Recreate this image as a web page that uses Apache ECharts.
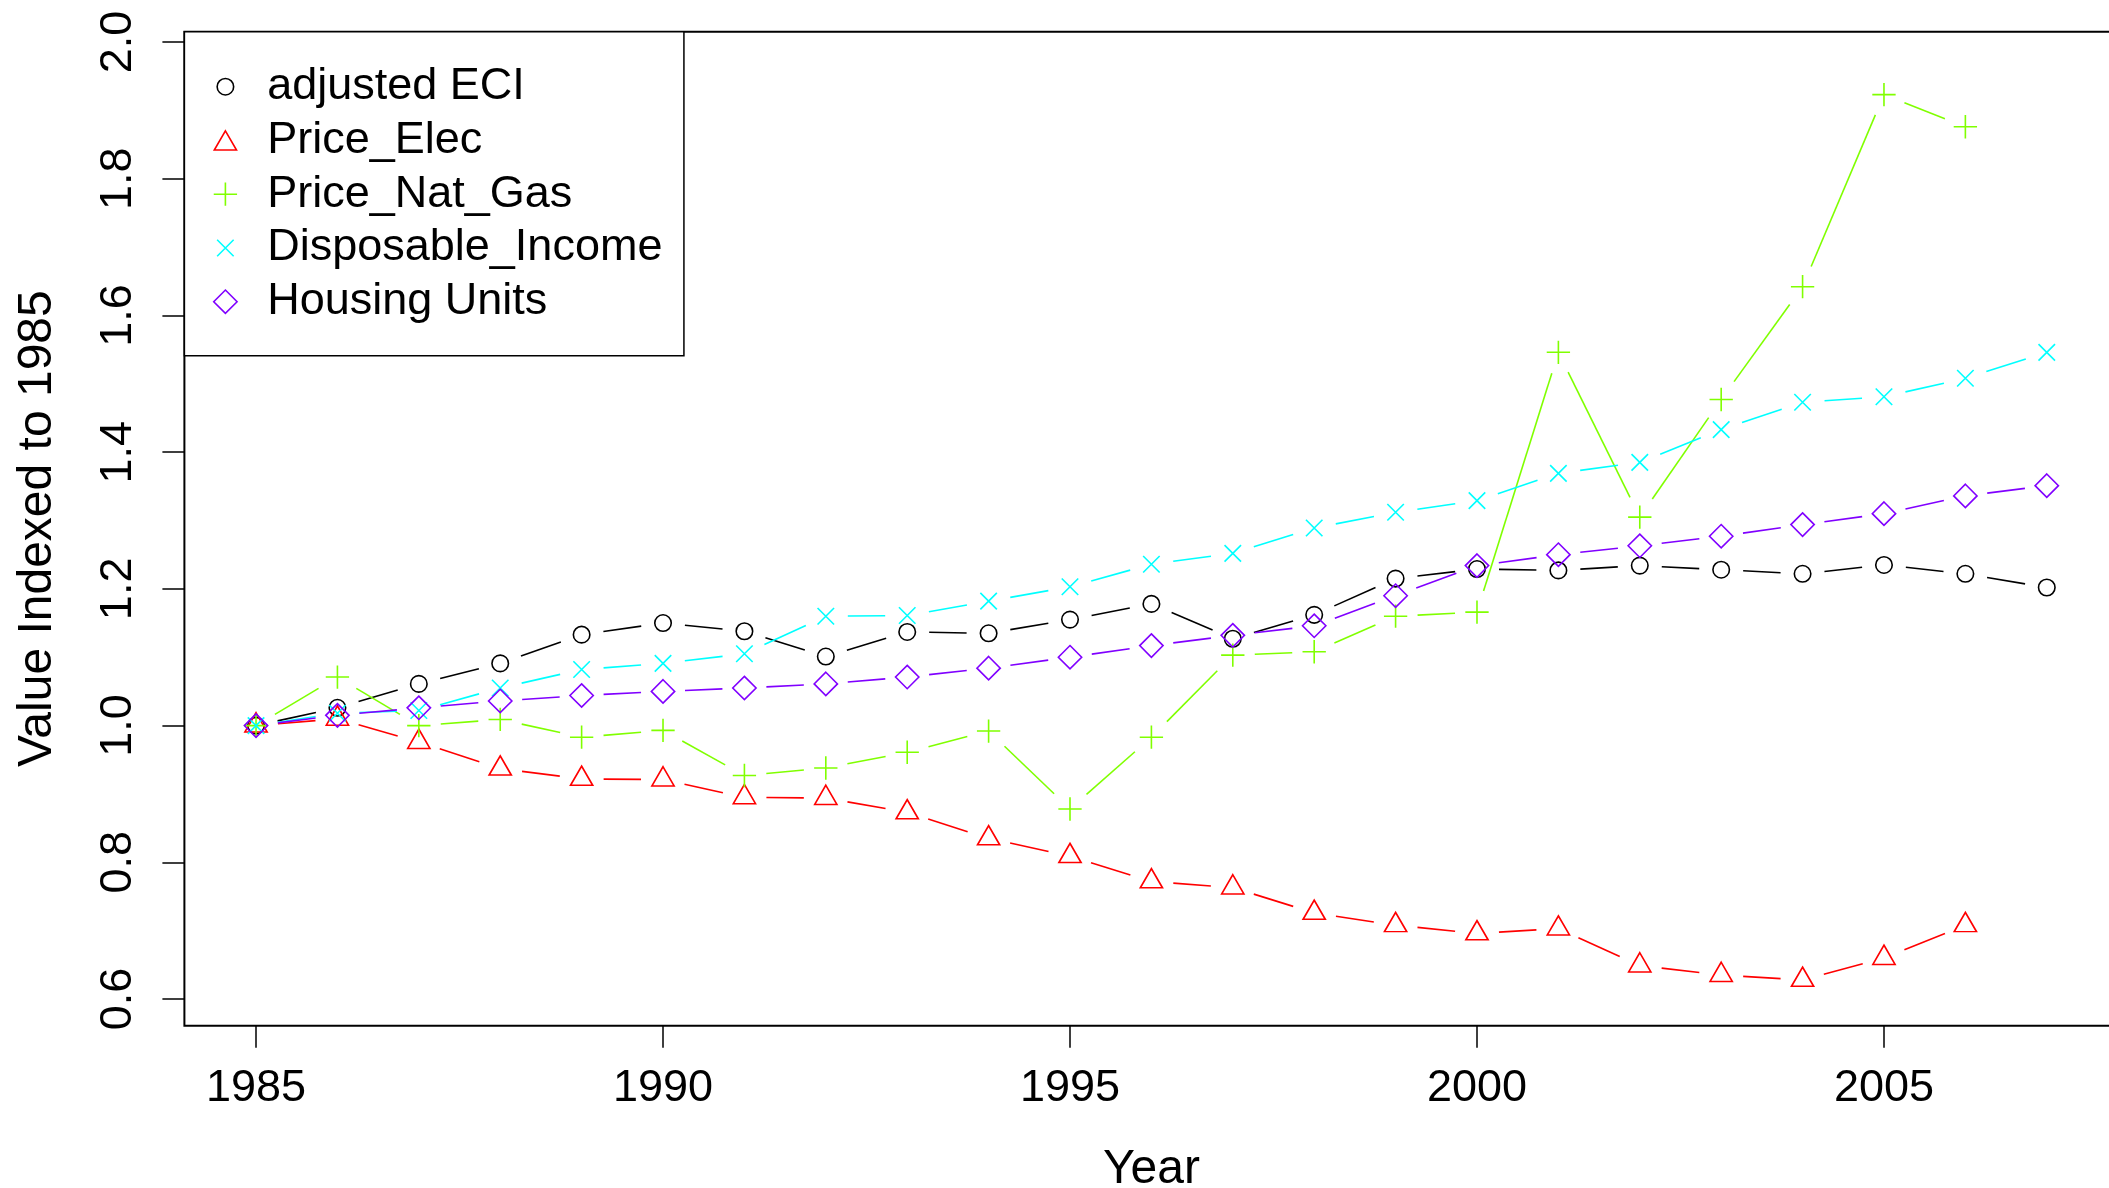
<!DOCTYPE html>
<html>
<head>
<meta charset="utf-8">
<script src="https://cdn.jsdelivr.net/npm/echarts@6/dist/echarts.min.js"></script>
<style>
  html, body { margin: 0; padding: 0; background: #fff; }
  #chart { width: 2109px; height: 1188px; }
</style>
</head>
<body>
<div id="chart"></div>
<script>
// ---- data ----
const years = [1985,1986,1987,1988,1989,1990,1991,1992,1993,1994,1995,1996,1997,1998,1999,2000,2001,2002,2003,2004,2005,2006,2007];
const adjustedECI = [1.000,1.026,1.061,1.091,1.133,1.150,1.138,1.101,1.137,1.135,1.155,1.178,1.127,1.162,1.215,1.229,1.227,1.234,1.228,1.222,1.235,1.222,1.202];
const priceElec = [1.000,1.010,0.976,0.937,0.922,0.921,0.895,0.894,0.873,0.835,0.809,0.772,0.763,0.726,0.708,0.696,0.703,0.649,0.635,0.628,0.660,0.708];
const priceNatGas = [1.000,1.071,1.000,1.009,0.983,0.993,0.927,0.938,0.961,0.992,0.878,0.983,1.103,1.108,1.160,1.166,1.546,1.305,1.477,1.642,1.923,1.876];
const disposableIncome = [1.000,1.018,1.022,1.055,1.082,1.091,1.105,1.160,1.161,1.182,1.203,1.236,1.252,1.289,1.312,1.329,1.369,1.385,1.433,1.473,1.481,1.508,1.546];
const housingUnits = [1.000,1.015,1.026,1.036,1.044,1.050,1.055,1.061,1.071,1.084,1.100,1.117,1.132,1.146,1.190,1.234,1.250,1.263,1.277,1.294,1.310,1.336,1.351];
const seriesNames = ['adjusted ECI','Price_Elec','Price_Nat_Gas','Disposable_Income','Housing Units'];
const xTicks = [1985,1990,1995,2000,2005];
const yTicks = [0.6,0.8,1.0,1.2,1.4,1.6,1.8,2.0];

// ---- styling ----
const FONT = 'Liberation Sans';
const LW = 1.6;
const GAP = 22;          // R type="b" gap around points
const colors = ['#000000','#FF0000','#80FF00','#00FFFF','#8000FF'];
const R = 8.25;          // R symbol radius
const s2 = Math.SQRT2 * R;
const symbols = [
  {symbol:'circle', size:2*R, offset:[0,0]},
  {symbol:'triangle', size:[2*1.347*R, 1.5*1.555*R], offset:[0,-1.555*R/4]},
  {symbol:'path://M0,1L2,1M1,0L1,2', size:2*s2, offset:[0,0]},
  {symbol:'path://M0,0L2,2M2,0L0,2', size:2*R, offset:[0,0]},
  {symbol:'diamond', size:2*s2, offset:[0,0]}
];

// legend icons: padded boxes (W x H) with the glyph at (CX, CY)
const IW = 67, IH = 24, CX = 30.2, CY = 12;
const pad = `M0,0M${IW},0M${IW},${IH}M0,${IH}`;
function f(v){ return v.toFixed(2); }
const tr = 1.555*R, txc = 1.347*R;
const legendIcons = [
  `path://${pad}M${f(CX+R)},${CY}A${R},${R} 0 1 1 ${f(CX-R)},${CY}A${R},${R} 0 1 1 ${f(CX+R)},${CY}Z`,
  `path://${pad}M${f(CX)},${f(CY-tr*0.75)}L${f(CX+txc)},${f(CY+tr*0.75)}L${f(CX-txc)},${f(CY+tr*0.75)}Z`,
  `path://${pad}M${f(CX-s2)},${CY}L${f(CX+s2)},${CY}M${f(CX)},${f(CY-s2)}L${f(CX)},${f(CY+s2)}`,
  `path://${pad}M${f(CX-R)},${f(CY-R)}L${f(CX+R)},${f(CY+R)}M${f(CX+R)},${f(CY-R)}L${f(CX-R)},${f(CY+R)}`,
  `path://${pad}M${f(CX)},${f(CY-s2)}L${f(CX+s2)},${CY}L${f(CX)},${f(CY+s2)}L${f(CX-s2)},${CY}Z`
];

const allValues = [adjustedECI, priceElec, priceNatGas, disposableIncome, housingUnits];

function segRender(color) {
  return function (params, api) {
    const p0 = api.coord([api.value(0), api.value(1)]);
    const p1 = api.coord([api.value(2), api.value(3)]);
    const dx = p1[0]-p0[0], dy = p1[1]-p0[1];
    const d = Math.sqrt(dx*dx+dy*dy);
    if (d <= 2*GAP) return;
    const k = GAP/d;
    return {
      type: 'line',
      shape: {x1: p0[0]+k*dx, y1: p0[1]+k*dy, x2: p1[0]-k*dx, y2: p1[1]-k*dy},
      style: {stroke: color, lineWidth: LW}
    };
  };
}

const series = [];
allValues.forEach((vals, si) => {
  const segs = [];
  for (let i = 0; i < vals.length-1; i++) segs.push([years[i], vals[i], years[i+1], vals[i+1]]);
  series.push({
    type: 'custom', name: 'seg_'+si, renderItem: segRender(colors[si]),
    data: segs, encode: {x:[0,2], y:[1,3]}, silent: true, z: 2+si*2
  });
  series.push({
    type: 'scatter', name: seriesNames[si],
    data: vals.map((v,i) => [years[i], v]),
    symbol: symbols[si].symbol, symbolSize: symbols[si].size, symbolOffset: symbols[si].offset,
    itemStyle: {color: 'rgba(0,0,0,0)', borderColor: colors[si], borderWidth: LW, opacity: 1},
    silent: true, z: 3+si*2
  });
});

const chart = echarts.init(document.getElementById('chart'), null, {renderer: 'canvas'});
chart.setOption({
  animation: false,
  backgroundColor: '#fff',
  textStyle: {fontFamily: FONT},
  grid: {left: 184.4, top: 31.7, width: 1934, height: 994, outerBoundsMode: 'none', containLabel: false,
         show: true, borderColor: '#000', borderWidth: 2, backgroundColor: 'transparent'},
  xAxis: {
    type: 'value', min: 1984.12, max: 2007.88,
    name: 'Year', nameLocation: 'middle', nameGap: 120,
    nameTextStyle: {fontSize: 48, color: '#000', fontFamily: FONT},
    splitLine: {show: false},
    axisLine: {show: false},
    axisTick: {show: true, inside: false, length: 22, lineStyle: {color: '#000', width: 1.5}, customValues: xTicks},
    axisLabel: {customValues: xTicks, fontSize: 45, color: '#000', margin: 40, fontFamily: FONT, formatter: v => String(v)}
  },
  yAxis: {
    type: 'value', min: 0.561, max: 2.015,
    name: 'Value Indexed to 1985', nameLocation: 'middle', nameGap: 123,
    nameTextStyle: {fontSize: 48, color: '#000', fontFamily: FONT},
    splitLine: {show: false},
    axisLine: {show: false},
    axisTick: {show: true, inside: false, length: 22, lineStyle: {color: '#000', width: 1.5}, customValues: yTicks},
    axisLabel: {customValues: yTicks, fontSize: 45, color: '#000', margin: 43, rotate: 90, fontFamily: FONT, formatter: v => v.toFixed(1)}
  },
  legend: {
    orient: 'vertical', left: 184.4, top: 31.7,
    padding: [32.5, 21.5, 31.5, 10],
    itemWidth: IW, itemHeight: IH, itemGap: 8.75,
    backgroundColor: '#fff', borderColor: '#000', borderWidth: 1.5,
    selectedMode: false,
    textStyle: {fontSize: 45, color: '#000', fontFamily: FONT, lineHeight: 45},
    data: seriesNames.map((n, i) => ({
      name: n, icon: legendIcons[i],
      itemStyle: {color: 'rgba(0,0,0,0)', borderColor: colors[i], borderWidth: LW}
    }))
  },
  series: series
});
</script>
</body>
</html>
